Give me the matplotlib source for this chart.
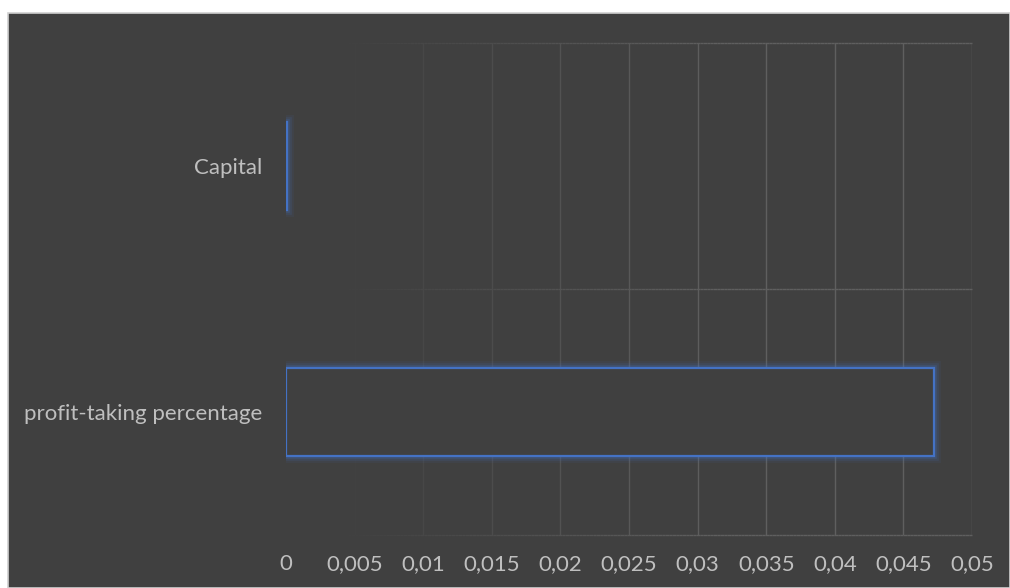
"""Horizontal bar chart, Excel dark style, outlined bars with glow."""
import numpy as np
import matplotlib
matplotlib.use("Agg")
import matplotlib.pyplot as plt
import matplotlib.patheffects as pe
from matplotlib.collections import LineCollection
from matplotlib.patches import Rectangle
from matplotlib.colors import to_rgb

# ── data ─────────────────────────────────────────────
categories = ["profit-taking percentage", "Capital"]
values = [0.0472, 0.0001]
x_ticks = [0, 0.005, 0.01, 0.015, 0.02, 0.025, 0.03, 0.035, 0.04, 0.045, 0.05]
x_tick_labels = ["0", "0,005", "0,01", "0,015", "0,02", "0,025",
                 "0,03", "0,035", "0,04", "0,045", "0,05"]

BG = "#404040"
GRID = "#5f5f5f"
BLUE = "#4472C4"
TXT = "#bfbfbf"

plt.rcParams["font.family"] = ["Lato", "DejaVu Sans"]

fig = plt.figure(figsize=(10.1, 5.88), dpi=100)
fig.patch.set_facecolor("white")
# dark chart area with thin light border
bg_rect = Rectangle((8 / 1010, 0), 1 - 8 / 1010, 1 - 13 / 588,
                    transform=fig.transFigure, facecolor=BG,
                    edgecolor="#d0d0d0", linewidth=1.2, zorder=-10)
fig.add_artist(bg_rect)

ax = fig.add_axes([286 / 1010, 1 - 535 / 588, (972 - 286) / 1010, (535 - 43) / 588])
ax.set_zorder(5)
ax.set_facecolor("none")
ax.set_xlim(0, 0.05)
ax.set_ylim(-0.5, 1.5)


def fade(frac):
    # gridlines fade out toward the left of the plot
    a = np.clip((frac - 0.08) / 0.55, 0, 1)
    bg, gr = np.array(to_rgb(BG)), np.array(to_rgb(GRID))
    return tuple(bg + (gr - bg) * a)


# vertical gridlines
for xv in x_ticks[1:]:
    ax.plot([xv, xv], [-0.5, 1.5], color=fade(xv / 0.05), lw=1.0, zorder=1)

# horizontal separators (band edges) with gradient
xs = np.linspace(0, 0.05, 200)
for yv in [-0.5, 0.5, 1.5]:
    segs = [[(xs[i], yv), (xs[i + 1], yv)] for i in range(len(xs) - 1)]
    cols = [fade(x / 0.05) for x in xs[:-1]]
    ax.add_collection(LineCollection(segs, colors=cols, lw=1.0, zorder=1,
                                     clip_on=False))

glow = [pe.Stroke(linewidth=10, foreground=BLUE, alpha=0.08),
        pe.Stroke(linewidth=7, foreground=BLUE, alpha=0.13),
        pe.Stroke(linewidth=4, foreground=BLUE, alpha=0.22),
        pe.Normal()]

bars = ax.barh(range(len(categories)), values, height=0.36,
               facecolor=BG, edgecolor=BLUE, linewidth=1.6, zorder=3)
for b in bars:
    b.set_path_effects(glow)

ax.set_xticks(x_ticks)
ax.set_xticklabels(x_tick_labels)
ax.set_yticks(range(len(categories)))
ax.set_yticklabels(categories)
ax.tick_params(axis="both", length=0, colors=TXT, labelsize=16)
ax.tick_params(axis="x", pad=14)
ax.tick_params(axis="y", pad=17)
for s in ax.spines.values():
    s.set_visible(False)

fig.savefig("out.png", dpi=100, facecolor=fig.get_facecolor())
